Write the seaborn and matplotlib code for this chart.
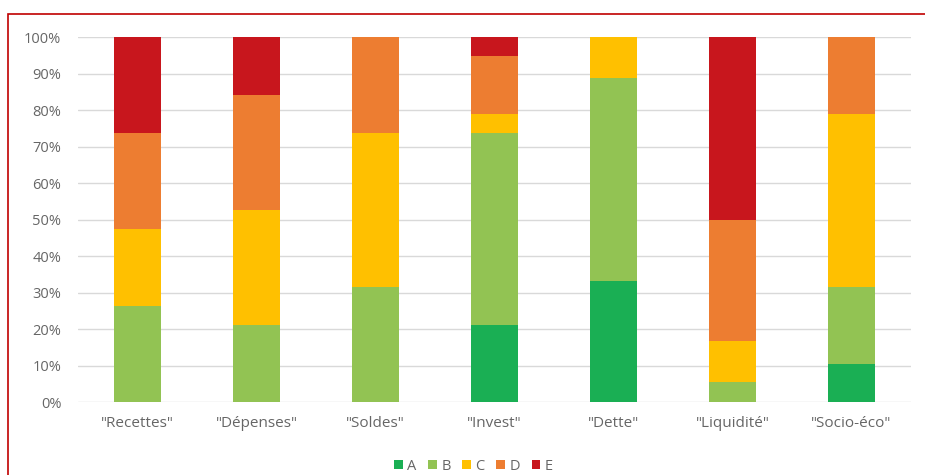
import matplotlib
matplotlib.use("Agg")
import matplotlib.pyplot as plt
from matplotlib.patches import Patch, Rectangle
from matplotlib.ticker import FuncFormatter, MultipleLocator
import seaborn as sns
import pandas as pd
import numpy as np

categories = ['"Recettes"', '"Dépenses"', '"Soldes"', '"Invest"', '"Dette"', '"Liquidité"', '"Socio-éco"']
series_names = ["A", "B", "C", "D", "E"]
A = [0.0, 0.0, 0.0, 21.1, 33.3, 0.0, 10.5]
B = [26.3, 21.1, 31.6, 52.6, 55.6, 5.6, 21.1]
C = [21.1, 31.5, 42.1, 5.3, 11.1, 11.1, 47.4]
D = [26.3, 31.6, 26.3, 15.8, 0.0, 33.3, 21.1]
E = [26.3, 15.8, 0.0, 5.2, 0.0, 50.0, 0.0]
colors = ["#1AAF54", "#92C353", "#FFC000", "#ED7D31", "#C8161D"]

sns.set_theme(style="white")
plt.rcParams["font.family"] = ["Open Sans", "DejaVu Sans"]

fig = plt.figure(figsize=(9.25, 4.75), dpi=100)
ax = fig.add_axes([78 / 925, 1 - 402 / 475, (911 - 78) / 925, (402 - 37.3) / 475])

vals = np.array([A, B, C, D, E]) / 100.0
cum = np.cumsum(vals, axis=0)
# draw from top of stack to bottom so lower layers overlay
for i in range(len(series_names) - 1, -1, -1):
    df = pd.DataFrame({"cat": categories, "val": cum[i]})
    sns.barplot(data=df, x="cat", y="val", color=colors[i], width=0.395,
                linewidth=0, saturation=1, ax=ax, zorder=3, order=categories)

ax.set_ylim(0, 1)
ax.set_xlim(-0.5, len(categories) - 0.5)
ax.yaxis.set_major_locator(MultipleLocator(0.1))
ax.yaxis.set_major_formatter(FuncFormatter(lambda v, p: f"{v*100:.0f}%"))
ax.grid(axis="y", color="#D9D9D9", linewidth=1, zorder=0)
ax.set_axisbelow(True)
for s in ax.spines.values():
    s.set_visible(False)
ax.tick_params(axis="both", length=0, colors="#666666")
ax.tick_params(axis="y", pad=12, labelsize=10.5)
ax.tick_params(axis="x", pad=10, labelsize=11)
ax.set_xlabel("")
ax.set_ylabel("")

handles = [Patch(facecolor=c, edgecolor="none", label=n) for c, n in zip(colors, series_names)]
fig.legend(handles=handles, loc="center", bbox_to_anchor=(0.512, 1 - 466 / 475), ncol=5,
           frameon=False, handlelength=0.6, handleheight=0.6, handletextpad=0.3,
           columnspacing=0.8, fontsize=10.5, labelcolor="#666666")

fig.patches.append(Rectangle((8 / 925, -0.1), 1.2, (1 - 14 / 475) + 0.1,
                             transform=fig.transFigure, fill=False,
                             edgecolor="#C00000", linewidth=1.2, zorder=10))

fig.savefig("out.png", dpi=100)
